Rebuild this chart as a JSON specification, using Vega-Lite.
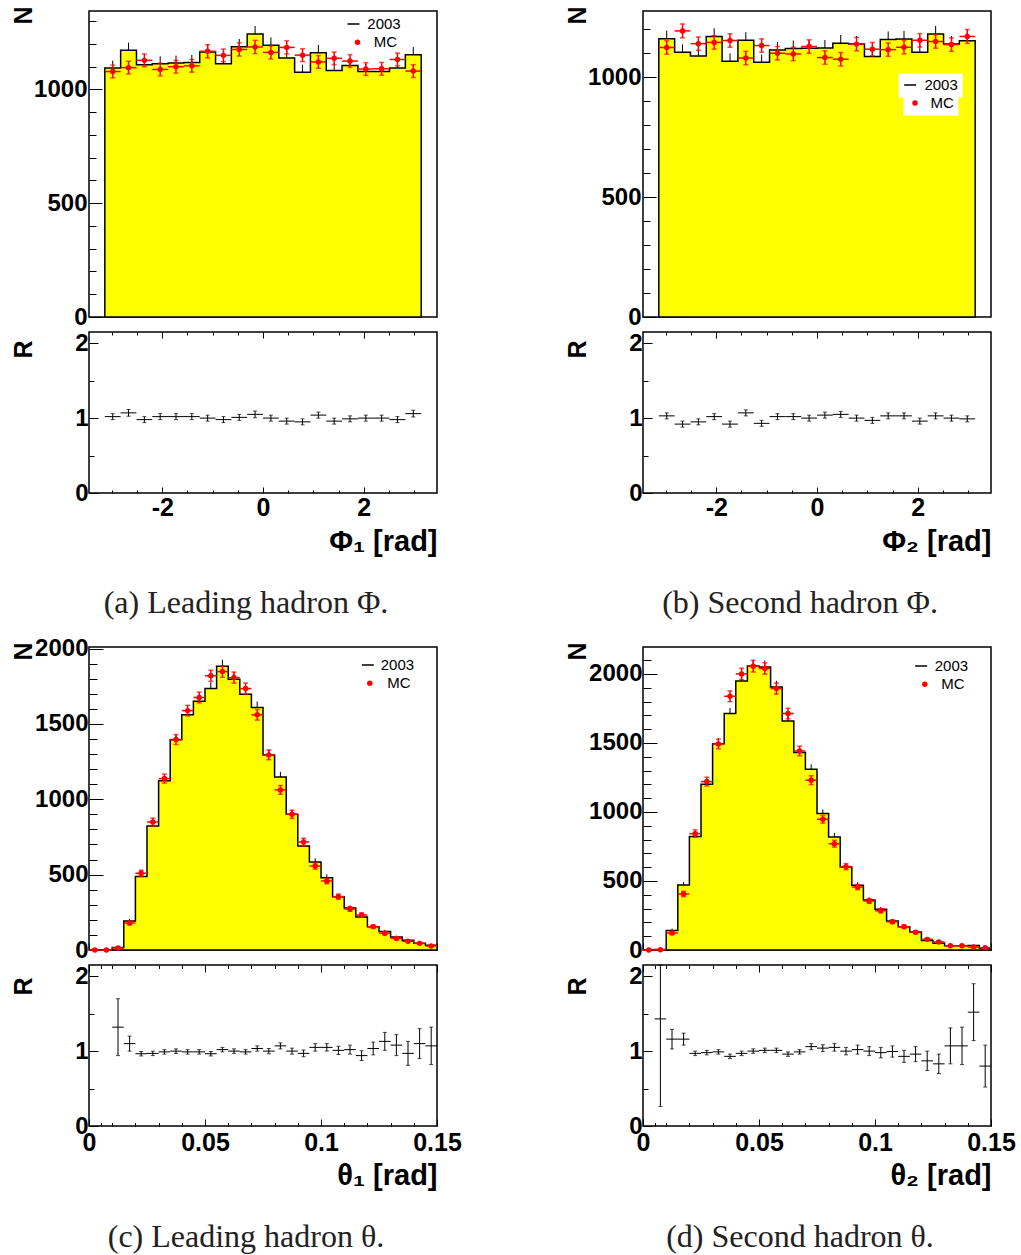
{
  "$schema": "https://vega.github.io/schema/vega-lite/v6.json",
  "padding": {"left": 10, "top": 5, "right": 0, "bottom": 0},
  "background": "white",
  "columns": 2,
  "bounds": "flush",
  "spacing": {"row": 15, "column": 206},
  "resolve": {"scale": {"stroke": "independent", "fill": "independent"}, "legend": {"stroke": "independent", "fill": "independent"}},
  "datasets": {
    "a": [
      {"xc": -2.9845, "x0": -3.1416, "x1": -2.8274, "n": 1094, "ne": 33, "mc": 1079, "me": 28, "r": 1.02, "re": 0.04},
      {"xc": -2.6704, "x0": -2.8274, "x1": -2.5133, "n": 1172, "ne": 34, "mc": 1096, "me": 28, "r": 1.07, "re": 0.045},
      {"xc": -2.3562, "x0": -2.5133, "x1": -2.1991, "n": 1109, "ne": 33, "mc": 1128, "me": 28, "r": 0.98, "re": 0.04},
      {"xc": -2.042, "x0": -2.1991, "x1": -1.885, "n": 1113, "ne": 33, "mc": 1088, "me": 28, "r": 1.02, "re": 0.04},
      {"xc": -1.7279, "x0": -1.885, "x1": -1.5708, "n": 1116, "ne": 33, "mc": 1100, "me": 28, "r": 1.02, "re": 0.04},
      {"xc": -1.4137, "x0": -1.5708, "x1": -1.2566, "n": 1119, "ne": 33, "mc": 1104, "me": 28, "r": 1.02, "re": 0.04},
      {"xc": -1.0996, "x0": -1.2566, "x1": -0.9425, "n": 1165, "ne": 34, "mc": 1168, "me": 29, "r": 1.0, "re": 0.04},
      {"xc": -0.7854, "x0": -0.9425, "x1": -0.6283, "n": 1113, "ne": 33, "mc": 1150, "me": 28, "r": 0.98, "re": 0.04},
      {"xc": -0.4712, "x0": -0.6283, "x1": -0.3142, "n": 1188, "ne": 34, "mc": 1176, "me": 29, "r": 1.01, "re": 0.04},
      {"xc": -0.1571, "x0": -0.3142, "x1": 0, "n": 1244, "ne": 35, "mc": 1187, "me": 29, "r": 1.05, "re": 0.045},
      {"xc": 0.1571, "x0": 0, "x1": 0.3142, "n": 1194, "ne": 35, "mc": 1163, "me": 29, "r": 1.0, "re": 0.04},
      {"xc": 0.4712, "x0": 0.3142, "x1": 0.6283, "n": 1138, "ne": 34, "mc": 1185, "me": 29, "r": 0.96, "re": 0.04},
      {"xc": 0.7854, "x0": 0.6283, "x1": 0.9425, "n": 1076, "ne": 33, "mc": 1151, "me": 28, "r": 0.95, "re": 0.04},
      {"xc": 1.0996, "x0": 0.9425, "x1": 1.2566, "n": 1162, "ne": 34, "mc": 1121, "me": 28, "r": 1.04, "re": 0.04},
      {"xc": 1.4137, "x0": 1.2566, "x1": 1.5708, "n": 1084, "ne": 33, "mc": 1137, "me": 28, "r": 0.96, "re": 0.04},
      {"xc": 1.7279, "x0": 1.5708, "x1": 1.885, "n": 1106, "ne": 33, "mc": 1125, "me": 28, "r": 0.99, "re": 0.04},
      {"xc": 2.042, "x0": 1.885, "x1": 2.1991, "n": 1079, "ne": 33, "mc": 1090, "me": 28, "r": 1.0, "re": 0.04},
      {"xc": 2.3562, "x0": 2.1991, "x1": 2.5133, "n": 1079, "ne": 33, "mc": 1091, "me": 28, "r": 1.0, "re": 0.04},
      {"xc": 2.6704, "x0": 2.5133, "x1": 2.8274, "n": 1094, "ne": 33, "mc": 1132, "me": 28, "r": 0.98, "re": 0.04},
      {"xc": 2.9845, "x0": 2.8274, "x1": 3.1416, "n": 1153, "ne": 34, "mc": 1081, "me": 28, "r": 1.06, "re": 0.045}
    ],
    "b": [
      {"xc": -2.9845, "x0": -3.1416, "x1": -2.8274, "n": 1159, "ne": 34, "mc": 1123, "me": 28, "r": 1.03, "re": 0.04},
      {"xc": -2.6704, "x0": -2.8274, "x1": -2.5133, "n": 1103, "ne": 33, "mc": 1192, "me": 29, "r": 0.92, "re": 0.04},
      {"xc": -2.3562, "x0": -2.5133, "x1": -2.1991, "n": 1088, "ne": 33, "mc": 1139, "me": 28, "r": 0.95, "re": 0.04},
      {"xc": -2.042, "x0": -2.1991, "x1": -1.885, "n": 1169, "ne": 34, "mc": 1144, "me": 28, "r": 1.02, "re": 0.04},
      {"xc": -1.7279, "x0": -1.885, "x1": -1.5708, "n": 1066, "ne": 33, "mc": 1152, "me": 28, "r": 0.92, "re": 0.04},
      {"xc": -1.4137, "x0": -1.5708, "x1": -1.2566, "n": 1153, "ne": 34, "mc": 1079, "me": 28, "r": 1.07, "re": 0.04},
      {"xc": -1.0996, "x0": -1.2566, "x1": -0.9425, "n": 1061, "ne": 33, "mc": 1131, "me": 28, "r": 0.93, "re": 0.04},
      {"xc": -0.7854, "x0": -0.9425, "x1": -0.6283, "n": 1113, "ne": 33, "mc": 1099, "me": 28, "r": 1.02, "re": 0.04},
      {"xc": -0.4712, "x0": -0.6283, "x1": -0.3142, "n": 1119, "ne": 33, "mc": 1096, "me": 28, "r": 1.02, "re": 0.04},
      {"xc": -0.1571, "x0": -0.3142, "x1": 0, "n": 1120, "ne": 33, "mc": 1127, "me": 28, "r": 1.0, "re": 0.04},
      {"xc": 0.1571, "x0": 0, "x1": 0.3142, "n": 1121, "ne": 33, "mc": 1081, "me": 28, "r": 1.04, "re": 0.04},
      {"xc": 0.4712, "x0": 0.3142, "x1": 0.6283, "n": 1141, "ne": 34, "mc": 1074, "me": 28, "r": 1.05, "re": 0.04},
      {"xc": 0.7854, "x0": 0.6283, "x1": 0.9425, "n": 1137, "ne": 34, "mc": 1137, "me": 28, "r": 1.0, "re": 0.04},
      {"xc": 1.0996, "x0": 0.9425, "x1": 1.2566, "n": 1085, "ne": 33, "mc": 1116, "me": 28, "r": 0.97, "re": 0.04},
      {"xc": 1.4137, "x0": 1.2566, "x1": 1.5708, "n": 1156, "ne": 34, "mc": 1114, "me": 28, "r": 1.03, "re": 0.04},
      {"xc": 1.7279, "x0": 1.5708, "x1": 1.885, "n": 1158, "ne": 34, "mc": 1124, "me": 28, "r": 1.03, "re": 0.04},
      {"xc": 2.042, "x0": 1.885, "x1": 2.1991, "n": 1103, "ne": 33, "mc": 1153, "me": 28, "r": 0.96, "re": 0.04},
      {"xc": 2.3562, "x0": 2.1991, "x1": 2.5133, "n": 1179, "ne": 34, "mc": 1148, "me": 28, "r": 1.03, "re": 0.04},
      {"xc": 2.6704, "x0": 2.5133, "x1": 2.8274, "n": 1137, "ne": 34, "mc": 1135, "me": 28, "r": 1.0, "re": 0.04},
      {"xc": 2.9845, "x0": 2.8274, "x1": 3.1416, "n": 1151, "ne": 34, "mc": 1169, "me": 29, "r": 0.99, "re": 0.04}
    ],
    "c": [
      {"xc": 0.0025, "x0": 0, "x1": 0.005, "n": 0, "ne": 0, "mc": 0, "me": 0},
      {"xc": 0.0075, "x0": 0.005, "x1": 0.01, "n": 0, "ne": 0, "mc": 0, "me": 0},
      {"xc": 0.0125, "x0": 0.01, "x1": 0.015, "n": 17, "ne": 4, "mc": 13, "me": 3, "r": 1.32, "re": 0.38},
      {"xc": 0.0175, "x0": 0.015, "x1": 0.02, "n": 192, "ne": 14, "mc": 179, "me": 12, "r": 1.1, "re": 0.1},
      {"xc": 0.0225, "x0": 0.02, "x1": 0.025, "n": 487, "ne": 22, "mc": 509, "me": 20, "r": 0.965, "re": 0.03},
      {"xc": 0.0275, "x0": 0.025, "x1": 0.03, "n": 823, "ne": 29, "mc": 849, "me": 26, "r": 0.97, "re": 0.03},
      {"xc": 0.0325, "x0": 0.03, "x1": 0.035, "n": 1122, "ne": 33, "mc": 1137, "me": 30, "r": 0.99, "re": 0.03},
      {"xc": 0.0375, "x0": 0.035, "x1": 0.04, "n": 1394, "ne": 37, "mc": 1396, "me": 33, "r": 1.0, "re": 0.03},
      {"xc": 0.0425, "x0": 0.04, "x1": 0.045, "n": 1560, "ne": 39, "mc": 1588, "me": 35, "r": 0.99, "re": 0.03},
      {"xc": 0.0475, "x0": 0.045, "x1": 0.05, "n": 1650, "ne": 41, "mc": 1675, "me": 36, "r": 0.99, "re": 0.03},
      {"xc": 0.0525, "x0": 0.05, "x1": 0.055, "n": 1734, "ne": 42, "mc": 1819, "me": 37, "r": 0.965, "re": 0.03},
      {"xc": 0.0575, "x0": 0.055, "x1": 0.06, "n": 1883, "ne": 43, "mc": 1847, "me": 38, "r": 1.02, "re": 0.03},
      {"xc": 0.0625, "x0": 0.06, "x1": 0.065, "n": 1796, "ne": 42, "mc": 1807, "me": 37, "r": 1.0, "re": 0.03},
      {"xc": 0.0675, "x0": 0.065, "x1": 0.07, "n": 1697, "ne": 41, "mc": 1734, "me": 37, "r": 0.99, "re": 0.03},
      {"xc": 0.0725, "x0": 0.07, "x1": 0.075, "n": 1608, "ne": 40, "mc": 1560, "me": 35, "r": 1.035, "re": 0.035},
      {"xc": 0.0775, "x0": 0.075, "x1": 0.08, "n": 1294, "ne": 36, "mc": 1294, "me": 32, "r": 1.0, "re": 0.035},
      {"xc": 0.0825, "x0": 0.08, "x1": 0.085, "n": 1148, "ne": 34, "mc": 1062, "me": 29, "r": 1.07, "re": 0.04},
      {"xc": 0.0875, "x0": 0.085, "x1": 0.09, "n": 900, "ne": 30, "mc": 900, "me": 27, "r": 1.0, "re": 0.04},
      {"xc": 0.0925, "x0": 0.09, "x1": 0.095, "n": 690, "ne": 26, "mc": 717, "me": 24, "r": 0.97, "re": 0.045},
      {"xc": 0.0975, "x0": 0.095, "x1": 0.1, "n": 584, "ne": 24, "mc": 557, "me": 21, "r": 1.05, "re": 0.05},
      {"xc": 0.1025, "x0": 0.1, "x1": 0.105, "n": 480, "ne": 22, "mc": 458, "me": 19, "r": 1.05, "re": 0.05},
      {"xc": 0.1075, "x0": 0.105, "x1": 0.11, "n": 354, "ne": 19, "mc": 354, "me": 17, "r": 1.01, "re": 0.055},
      {"xc": 0.1125, "x0": 0.11, "x1": 0.115, "n": 279, "ne": 17, "mc": 272, "me": 15, "r": 1.02, "re": 0.06},
      {"xc": 0.1175, "x0": 0.115, "x1": 0.12, "n": 219, "ne": 15, "mc": 232, "me": 14, "r": 0.94, "re": 0.065},
      {"xc": 0.1225, "x0": 0.12, "x1": 0.125, "n": 155, "ne": 12, "mc": 155, "me": 11, "r": 1.035, "re": 0.085},
      {"xc": 0.1275, "x0": 0.125, "x1": 0.13, "n": 122, "ne": 11, "mc": 111, "me": 9, "r": 1.13, "re": 0.12},
      {"xc": 0.1325, "x0": 0.13, "x1": 0.135, "n": 86, "ne": 9, "mc": 77, "me": 8, "r": 1.08, "re": 0.14},
      {"xc": 0.1375, "x0": 0.135, "x1": 0.14, "n": 64, "ne": 8, "mc": 58, "me": 7, "r": 0.97, "re": 0.16},
      {"xc": 0.1425, "x0": 0.14, "x1": 0.145, "n": 44, "ne": 7, "mc": 44, "me": 6, "r": 1.1, "re": 0.2},
      {"xc": 0.1475, "x0": 0.145, "x1": 0.15, "n": 31, "ne": 6, "mc": 27, "me": 5, "r": 1.07, "re": 0.25}
    ],
    "d": [
      {"xc": 0.0025, "x0": 0, "x1": 0.005, "n": 0, "ne": 0, "mc": 0, "me": 0},
      {"xc": 0.0075, "x0": 0.005, "x1": 0.01, "n": 3, "ne": 2, "mc": 2, "me": 1, "r": 1.43, "re": 1.17},
      {"xc": 0.0125, "x0": 0.01, "x1": 0.015, "n": 142, "ne": 12, "mc": 123, "me": 11, "r": 1.16, "re": 0.13},
      {"xc": 0.0175, "x0": 0.015, "x1": 0.02, "n": 471, "ne": 22, "mc": 406, "me": 19, "r": 1.16, "re": 0.08},
      {"xc": 0.0225, "x0": 0.02, "x1": 0.025, "n": 823, "ne": 29, "mc": 843, "me": 27, "r": 0.97, "re": 0.03},
      {"xc": 0.0275, "x0": 0.025, "x1": 0.03, "n": 1201, "ne": 35, "mc": 1220, "me": 32, "r": 0.98, "re": 0.03},
      {"xc": 0.0325, "x0": 0.03, "x1": 0.035, "n": 1495, "ne": 39, "mc": 1493, "me": 35, "r": 0.99, "re": 0.03},
      {"xc": 0.0375, "x0": 0.035, "x1": 0.04, "n": 1713, "ne": 41, "mc": 1838, "me": 39, "r": 0.93, "re": 0.03},
      {"xc": 0.0425, "x0": 0.04, "x1": 0.045, "n": 1949, "ne": 44, "mc": 2000, "me": 41, "r": 0.97, "re": 0.03},
      {"xc": 0.0475, "x0": 0.045, "x1": 0.05, "n": 2058, "ne": 45, "mc": 2056, "me": 42, "r": 1.0, "re": 0.03},
      {"xc": 0.0525, "x0": 0.05, "x1": 0.055, "n": 2051, "ne": 45, "mc": 2039, "me": 41, "r": 1.01, "re": 0.03},
      {"xc": 0.0575, "x0": 0.055, "x1": 0.06, "n": 1906, "ne": 44, "mc": 1894, "me": 40, "r": 1.01, "re": 0.03},
      {"xc": 0.0625, "x0": 0.06, "x1": 0.065, "n": 1659, "ne": 41, "mc": 1713, "me": 38, "r": 0.96, "re": 0.03},
      {"xc": 0.0675, "x0": 0.065, "x1": 0.07, "n": 1430, "ne": 38, "mc": 1442, "me": 35, "r": 0.99, "re": 0.03},
      {"xc": 0.0725, "x0": 0.07, "x1": 0.075, "n": 1309, "ne": 36, "mc": 1230, "me": 32, "r": 1.06, "re": 0.04},
      {"xc": 0.0775, "x0": 0.075, "x1": 0.08, "n": 988, "ne": 31, "mc": 947, "me": 28, "r": 1.04, "re": 0.045},
      {"xc": 0.0825, "x0": 0.08, "x1": 0.085, "n": 819, "ne": 29, "mc": 770, "me": 25, "r": 1.05, "re": 0.05},
      {"xc": 0.0875, "x0": 0.085, "x1": 0.09, "n": 601, "ne": 25, "mc": 604, "me": 22, "r": 1.0, "re": 0.05},
      {"xc": 0.0925, "x0": 0.09, "x1": 0.095, "n": 469, "ne": 22, "mc": 456, "me": 19, "r": 1.02, "re": 0.06},
      {"xc": 0.0975, "x0": 0.095, "x1": 0.1, "n": 362, "ne": 19, "mc": 355, "me": 17, "r": 1.0, "re": 0.06},
      {"xc": 0.1025, "x0": 0.1, "x1": 0.105, "n": 295, "ne": 17, "mc": 285, "me": 15, "r": 0.98, "re": 0.07},
      {"xc": 0.1075, "x0": 0.105, "x1": 0.11, "n": 210, "ne": 14, "mc": 205, "me": 13, "r": 0.995, "re": 0.075},
      {"xc": 0.1125, "x0": 0.11, "x1": 0.115, "n": 169, "ne": 13, "mc": 169, "me": 12, "r": 0.93, "re": 0.08},
      {"xc": 0.1175, "x0": 0.115, "x1": 0.12, "n": 130, "ne": 11, "mc": 128, "me": 10, "r": 0.96, "re": 0.1},
      {"xc": 0.1225, "x0": 0.12, "x1": 0.125, "n": 68, "ne": 8, "mc": 77, "me": 8, "r": 0.87, "re": 0.13},
      {"xc": 0.1275, "x0": 0.125, "x1": 0.13, "n": 48, "ne": 7, "mc": 58, "me": 7, "r": 0.83, "re": 0.13},
      {"xc": 0.1325, "x0": 0.13, "x1": 0.135, "n": 31, "ne": 6, "mc": 31, "me": 5, "r": 1.07, "re": 0.24},
      {"xc": 0.1375, "x0": 0.135, "x1": 0.14, "n": 31, "ne": 6, "mc": 31, "me": 5, "r": 1.07, "re": 0.25},
      {"xc": 0.1425, "x0": 0.14, "x1": 0.145, "n": 32, "ne": 6, "mc": 21, "me": 4, "r": 1.52, "re": 0.38},
      {"xc": 0.1475, "x0": 0.145, "x1": 0.15, "n": 13, "ne": 4, "mc": 16, "me": 4, "r": 0.8, "re": 0.28}
    ]
  },
  "concat": [
    {
      "width": 348, "height": 306, "data": {"name": "a"},
      "resolve": {"axis": {"y": "independent"}},
      "layer": [
        {"mark": {"type": "errorbar", "color": "black", "thickness": 1},
         "encoding": {"x": {"field": "xc", "type": "quantitative", "title": null, "scale": {"domain": [-3.4558, 3.4558], "nice": false, "zero": false}},
                      "y": {"field": "n", "type": "quantitative", "axis": null, "scale": {"domain": [0, 1345], "nice": false, "zero": false}},
                      "yError": {"field": "ne"}}},
        {"transform": [{"fold": ["x0", "x1"], "as": ["k", "edge"]}],
         "mark": {"type": "area", "fill": "#ffff00", "fillOpacity": 1, "stroke": "black", "strokeWidth": 1.5},
         "encoding": {"x": {"field": "edge", "type": "quantitative", "title": null, "scale": {"domain": [-3.4558, 3.4558], "nice": false, "zero": false},
                            "axis": {"values": [-3, -2.5, -2, -1.5, -1, -0.5, 0, 0.5, 1, 1.5, 2, 2.5, 3], "labels": false, "title": null, "tickSize": {"condition": {"test": "datum.value % 2 === 0", "value": -9}, "value": -4}}},
                      "y": {"field": "n", "type": "quantitative", "stack": null, "scale": {"domain": [0, 1345], "nice": false, "zero": false},
                            "axis": {"orient": "left", "values": [0, 500, 1000], "format": "d", "tickSize": -13, "labelPadding": 15, "title": "N", "titleAngle": 270, "titleAlign": "right", "titleBaseline": "alphabetic", "titleX": -58, "titleY": -5, "titleFontSize": 25}},
                      "stroke": {"datum": "2003", "type": "nominal", "scale": {"domain": ["2003"], "range": ["black"]},
                                 "legend": {"orient": "none", "legendX": 257, "legendY": 5.5, "title": null, "symbolType": "stroke", "symbolSize": 144, "symbolStrokeWidth": 1.5, "symbolStrokeColor": "black", "labelOffset": 6.3, "padding": 0}}}},
        {"mark": {"type": "rule", "color": "red", "strokeWidth": 1.5},
         "encoding": {"x": {"field": "x0", "type": "quantitative", "title": null, "scale": {"domain": [-3.4558, 3.4558], "nice": false, "zero": false}}, "x2": {"field": "x1"},
                      "y": {"field": "mc", "type": "quantitative", "scale": {"domain": [0, 1345], "nice": false, "zero": false},
                            "axis": {"orient": "left", "values": [100, 200, 300, 400, 600, 700, 800, 900, 1100, 1200, 1300], "labels": false, "title": null, "tickSize": -7}}}},
        {"mark": {"type": "errorbar", "color": "red", "thickness": 1.5, "ticks": {"size": 5, "thickness": 1.5}},
         "encoding": {"x": {"field": "xc", "type": "quantitative", "title": null, "scale": {"domain": [-3.4558, 3.4558], "nice": false, "zero": false}},
                      "y": {"field": "mc", "type": "quantitative", "axis": null, "scale": {"domain": [0, 1345], "nice": false, "zero": false}},
                      "yError": {"field": "me"}}},
        {"mark": {"type": "point", "filled": true, "size": 30, "opacity": 1},
         "encoding": {"x": {"field": "xc", "type": "quantitative", "title": null, "scale": {"domain": [-3.4558, 3.4558], "nice": false, "zero": false}},
                      "y": {"field": "mc", "type": "quantitative", "axis": null, "scale": {"domain": [0, 1345], "nice": false, "zero": false}},
                      "fill": {"datum": "MC", "type": "nominal", "scale": {"domain": ["MC"], "range": ["red"]},
                               "legend": {"orient": "none", "legendX": 261, "legendY": 23.8, "title": null, "symbolType": "circle", "symbolSize": 30, "symbolStrokeWidth": 0, "labelOffset": 8.8, "padding": 0}}}}
      ]
    },
    {
      "width": 348, "height": 306, "data": {"name": "b"},
      "resolve": {"axis": {"y": "independent"}},
      "layer": [
        {"mark": {"type": "errorbar", "color": "black", "thickness": 1},
         "encoding": {"x": {"field": "xc", "type": "quantitative", "title": null, "scale": {"domain": [-3.4558, 3.4558], "nice": false, "zero": false}},
                      "y": {"field": "n", "type": "quantitative", "axis": null, "scale": {"domain": [0, 1275], "nice": false, "zero": false}},
                      "yError": {"field": "ne"}}},
        {"transform": [{"fold": ["x0", "x1"], "as": ["k", "edge"]}],
         "mark": {"type": "area", "fill": "#ffff00", "fillOpacity": 1, "stroke": "black", "strokeWidth": 1.5},
         "encoding": {"x": {"field": "edge", "type": "quantitative", "title": null, "scale": {"domain": [-3.4558, 3.4558], "nice": false, "zero": false},
                            "axis": {"values": [-3, -2.5, -2, -1.5, -1, -0.5, 0, 0.5, 1, 1.5, 2, 2.5, 3], "labels": false, "title": null, "tickSize": {"condition": {"test": "datum.value % 2 === 0", "value": -9}, "value": -4}}},
                      "y": {"field": "n", "type": "quantitative", "stack": null, "scale": {"domain": [0, 1275], "nice": false, "zero": false},
                            "axis": {"orient": "left", "values": [0, 500, 1000], "format": "d", "tickSize": -13, "labelPadding": 15, "title": "N", "titleAngle": 270, "titleAlign": "right", "titleBaseline": "alphabetic", "titleX": -58, "titleY": -5, "titleFontSize": 25}},
                      "stroke": {"datum": "2003", "type": "nominal", "scale": {"domain": ["2003"], "range": ["black"]},
                                 "legend": {"orient": "none", "legendX": 255.7, "legendY": 62.5, "title": null, "symbolType": "stroke", "symbolSize": 144, "symbolStrokeWidth": 1.5, "symbolStrokeColor": "black", "labelOffset": 6.7, "padding": 4, "fillColor": "white"}}}},
        {"mark": {"type": "rule", "color": "red", "strokeWidth": 1.5},
         "encoding": {"x": {"field": "x0", "type": "quantitative", "title": null, "scale": {"domain": [-3.4558, 3.4558], "nice": false, "zero": false}}, "x2": {"field": "x1"},
                      "y": {"field": "mc", "type": "quantitative", "scale": {"domain": [0, 1275], "nice": false, "zero": false},
                            "axis": {"orient": "left", "values": [100, 200, 300, 400, 600, 700, 800, 900, 1100, 1200], "labels": false, "title": null, "tickSize": -7}}}},
        {"mark": {"type": "errorbar", "color": "red", "thickness": 1.5, "ticks": {"size": 5, "thickness": 1.5}},
         "encoding": {"x": {"field": "xc", "type": "quantitative", "title": null, "scale": {"domain": [-3.4558, 3.4558], "nice": false, "zero": false}},
                      "y": {"field": "mc", "type": "quantitative", "axis": null, "scale": {"domain": [0, 1275], "nice": false, "zero": false}},
                      "yError": {"field": "me"}}},
        {"mark": {"type": "point", "filled": true, "size": 30, "opacity": 1},
         "encoding": {"x": {"field": "xc", "type": "quantitative", "title": null, "scale": {"domain": [-3.4558, 3.4558], "nice": false, "zero": false}},
                      "y": {"field": "mc", "type": "quantitative", "axis": null, "scale": {"domain": [0, 1275], "nice": false, "zero": false}},
                      "fill": {"datum": "MC", "type": "nominal", "scale": {"domain": ["MC"], "range": ["red"]},
                               "legend": {"orient": "none", "legendX": 260.5, "legendY": 80.5, "title": null, "symbolType": "circle", "symbolSize": 30, "symbolStrokeWidth": 0, "labelOffset": 8, "padding": 4, "fillColor": "white"}}}}
      ]
    },
    {
      "width": 348, "height": 161, "data": {"name": "a"},
      "transform": [{"filter": "isValid(datum.r)"}],
      "title": {"text": "(a) Leading hadron Φ.", "orient": "bottom", "anchor": "middle", "dx": -17, "offset": 32, "font": "Liberation Serif", "fontSize": 32, "fontWeight": "normal", "color": "#222222"},
      "layer": [
        {"mark": {"type": "rule", "color": "black", "strokeWidth": 1},
         "encoding": {"x": {"field": "x0", "type": "quantitative", "scale": {"domain": [-3.4558, 3.4558], "nice": false, "zero": false},
                            "axis": {"values": [-3, -2.5, -2, -1.5, -1, -0.5, 0, 0.5, 1, 1.5, 2, 2.5, 3], "labelExpr": "datum.value === -2 ? '-2' : datum.value === 0 ? '0' : datum.value === 2 ? '2' : ''", "tickSize": {"condition": {"test": "datum.value % 2 === 0", "value": -6}, "value": -3}, "labelPadding": 8, "labelFontSize": 25, "title": "Φ₁ [rad]", "titleX": 348, "titleY": 57, "titleAlign": "right", "titleBaseline": "alphabetic", "titleAngle": 0, "titleFontSize": 29}},
                      "x2": {"field": "x1"},
                      "y": {"field": "r", "type": "quantitative", "title": "R", "scale": {"domain": [0, 2.15], "nice": false, "zero": false, "clamp": true},
                            "axis": {"values": [0, 0.5, 1, 1.5, 2], "labelExpr": "datum.value === 0 ? '0' : datum.value === 1 ? '1' : datum.value === 2 ? '2' : ''", "tickSize": {"condition": {"test": "datum.value % 1 === 0", "value": -9}, "value": -5}, "labelPadding": 10, "title": "R", "titleAngle": 270, "titleAlign": "right", "titleBaseline": "alphabetic", "titleX": -58, "titleY": 8, "titleFontSize": 25}}}},
        {"mark": {"type": "errorbar", "color": "black", "thickness": 1, "ticks": {"size": 4, "thickness": 1}},
         "encoding": {"x": {"field": "xc", "type": "quantitative", "scale": {"domain": [-3.4558, 3.4558], "nice": false, "zero": false},
                            "axis": {"orient": "top", "values": [-3, -2.5, -2, -1.5, -1, -0.5, 0, 0.5, 1, 1.5, 2, 2.5, 3], "labels": false, "title": null, "tickSize": {"condition": {"test": "datum.value % 2 === 0", "value": -6}, "value": -3}}},
                      "y": {"field": "r", "type": "quantitative", "title": "R", "scale": {"domain": [0, 2.15], "nice": false, "zero": false, "clamp": true}},
                      "yError": {"field": "re"}}}
      ],
      "resolve": {"axis": {"x": "independent"}}
    },
    {
      "width": 348, "height": 161, "data": {"name": "b"},
      "transform": [{"filter": "isValid(datum.r)"}],
      "title": {"text": "(b) Second hadron Φ.", "orient": "bottom", "anchor": "middle", "dx": -17, "offset": 32, "font": "Liberation Serif", "fontSize": 32, "fontWeight": "normal", "color": "#222222"},
      "layer": [
        {"mark": {"type": "rule", "color": "black", "strokeWidth": 1},
         "encoding": {"x": {"field": "x0", "type": "quantitative", "scale": {"domain": [-3.4558, 3.4558], "nice": false, "zero": false},
                            "axis": {"values": [-3, -2.5, -2, -1.5, -1, -0.5, 0, 0.5, 1, 1.5, 2, 2.5, 3], "labelExpr": "datum.value === -2 ? '-2' : datum.value === 0 ? '0' : datum.value === 2 ? '2' : ''", "tickSize": {"condition": {"test": "datum.value % 2 === 0", "value": -6}, "value": -3}, "labelPadding": 8, "labelFontSize": 25, "title": "Φ₂ [rad]", "titleX": 348, "titleY": 57, "titleAlign": "right", "titleBaseline": "alphabetic", "titleAngle": 0, "titleFontSize": 29}},
                      "x2": {"field": "x1"},
                      "y": {"field": "r", "type": "quantitative", "title": "R", "scale": {"domain": [0, 2.15], "nice": false, "zero": false, "clamp": true},
                            "axis": {"values": [0, 0.5, 1, 1.5, 2], "labelExpr": "datum.value === 0 ? '0' : datum.value === 1 ? '1' : datum.value === 2 ? '2' : ''", "tickSize": {"condition": {"test": "datum.value % 1 === 0", "value": -9}, "value": -5}, "labelPadding": 10, "title": "R", "titleAngle": 270, "titleAlign": "right", "titleBaseline": "alphabetic", "titleX": -58, "titleY": 8, "titleFontSize": 25}}}},
        {"mark": {"type": "errorbar", "color": "black", "thickness": 1, "ticks": {"size": 4, "thickness": 1}},
         "encoding": {"x": {"field": "xc", "type": "quantitative", "scale": {"domain": [-3.4558, 3.4558], "nice": false, "zero": false},
                            "axis": {"orient": "top", "values": [-3, -2.5, -2, -1.5, -1, -0.5, 0, 0.5, 1, 1.5, 2, 2.5, 3], "labels": false, "title": null, "tickSize": {"condition": {"test": "datum.value % 2 === 0", "value": -6}, "value": -3}}},
                      "y": {"field": "r", "type": "quantitative", "title": "R", "scale": {"domain": [0, 2.15], "nice": false, "zero": false, "clamp": true}},
                      "yError": {"field": "re"}}}
      ],
      "resolve": {"axis": {"x": "independent"}}
    },
    {"width": 348, "height": 124, "data": {"values": []}, "mark": "point", "encoding": {}, "view": {"stroke": null}},
    {"width": 348, "height": 124, "data": {"values": []}, "mark": "point", "encoding": {}, "view": {"stroke": null}},
    {
      "width": 348, "height": 303, "data": {"name": "c"},
      "resolve": {"axis": {"y": "independent"}},
      "layer": [
        {"mark": {"type": "errorbar", "color": "black", "thickness": 1},
         "encoding": {"x": {"field": "xc", "type": "quantitative", "title": null, "scale": {"domain": [0, 0.15], "nice": false, "zero": false}},
                      "y": {"field": "n", "type": "quantitative", "axis": null, "scale": {"domain": [0, 2010], "nice": false, "zero": false}},
                      "yError": {"field": "ne"}}},
        {"transform": [{"fold": ["x0", "x1"], "as": ["k", "edge"]}],
         "mark": {"type": "area", "fill": "#ffff00", "fillOpacity": 1, "stroke": "black", "strokeWidth": 1.5},
         "encoding": {"x": {"field": "edge", "type": "quantitative", "title": null, "scale": {"domain": [0, 0.15], "nice": false, "zero": false},
                            "axis": {"values": [0, 0.005, 0.01, 0.02, 0.03, 0.04, 0.05, 0.06, 0.07, 0.08, 0.09, 0.1, 0.11, 0.12, 0.13, 0.14, 0.15], "labels": false, "title": null, "tickSize": {"condition": {"test": "indexof([0, 0.05, 0.1, 0.15], datum.value) >= 0", "value": -7}, "value": -3.5}}},
                      "y": {"field": "n", "type": "quantitative", "stack": null, "scale": {"domain": [0, 2010], "nice": false, "zero": false},
                            "axis": {"orient": "left", "values": [0, 500, 1000, 1500, 2000], "format": "d", "tickSize": -14, "labelPadding": 15, "title": "N", "titleAngle": 270, "titleAlign": "right", "titleBaseline": "alphabetic", "titleX": -58, "titleY": -5, "titleFontSize": 25}},
                      "stroke": {"datum": "2003", "type": "nominal", "scale": {"domain": ["2003"], "range": ["black"]},
                                 "legend": {"orient": "none", "legendX": 271.3, "legendY": 10.5, "title": null, "symbolType": "stroke", "symbolSize": 144, "symbolStrokeWidth": 1.5, "symbolStrokeColor": "black", "labelOffset": 5.4, "padding": 0}}}},
        {"mark": {"type": "rule", "color": "red", "strokeWidth": 1.5},
         "encoding": {"x": {"field": "x0", "type": "quantitative", "title": null, "scale": {"domain": [0, 0.15], "nice": false, "zero": false}}, "x2": {"field": "x1"},
                      "y": {"field": "mc", "type": "quantitative", "scale": {"domain": [0, 2010], "nice": false, "zero": false},
                            "axis": {"orient": "left", "values": [100, 200, 300, 400, 600, 700, 800, 900, 1100, 1200, 1300, 1400, 1600, 1700, 1800, 1900], "labels": false, "title": null, "tickSize": -8}}}},
        {"mark": {"type": "errorbar", "color": "red", "thickness": 1.5, "ticks": {"size": 5, "thickness": 1.5}},
         "encoding": {"x": {"field": "xc", "type": "quantitative", "title": null, "scale": {"domain": [0, 0.15], "nice": false, "zero": false}},
                      "y": {"field": "mc", "type": "quantitative", "axis": null, "scale": {"domain": [0, 2010], "nice": false, "zero": false}},
                      "yError": {"field": "me"}}},
        {"mark": {"type": "point", "filled": true, "size": 30, "opacity": 1},
         "encoding": {"x": {"field": "xc", "type": "quantitative", "title": null, "scale": {"domain": [0, 0.15], "nice": false, "zero": false}},
                      "y": {"field": "mc", "type": "quantitative", "axis": null, "scale": {"domain": [0, 2010], "nice": false, "zero": false}},
                      "fill": {"datum": "MC", "type": "nominal", "scale": {"domain": ["MC"], "range": ["red"]},
                               "legend": {"orient": "none", "legendX": 273.3, "legendY": 28.8, "title": null, "symbolType": "circle", "symbolSize": 30, "symbolStrokeWidth": 0, "labelOffset": 10, "padding": 0}}}}
      ]
    },
    {
      "width": 348, "height": 303, "data": {"name": "d"},
      "resolve": {"axis": {"y": "independent"}},
      "layer": [
        {"mark": {"type": "errorbar", "color": "black", "thickness": 1},
         "encoding": {"x": {"field": "xc", "type": "quantitative", "title": null, "scale": {"domain": [0, 0.15], "nice": false, "zero": false}},
                      "y": {"field": "n", "type": "quantitative", "axis": null, "scale": {"domain": [0, 2195], "nice": false, "zero": false}},
                      "yError": {"field": "ne"}}},
        {"transform": [{"fold": ["x0", "x1"], "as": ["k", "edge"]}],
         "mark": {"type": "area", "fill": "#ffff00", "fillOpacity": 1, "stroke": "black", "strokeWidth": 1.5},
         "encoding": {"x": {"field": "edge", "type": "quantitative", "title": null, "scale": {"domain": [0, 0.15], "nice": false, "zero": false},
                            "axis": {"values": [0, 0.005, 0.01, 0.02, 0.03, 0.04, 0.05, 0.06, 0.07, 0.08, 0.09, 0.1, 0.11, 0.12, 0.13, 0.14, 0.15], "labels": false, "title": null, "tickSize": {"condition": {"test": "indexof([0, 0.05, 0.1, 0.15], datum.value) >= 0", "value": -7}, "value": -3.5}}},
                      "y": {"field": "n", "type": "quantitative", "stack": null, "scale": {"domain": [0, 2195], "nice": false, "zero": false},
                            "axis": {"orient": "left", "values": [0, 500, 1000, 1500, 2000], "format": "d", "tickSize": -14, "labelPadding": 15, "title": "N", "titleAngle": 270, "titleAlign": "right", "titleBaseline": "alphabetic", "titleX": -58, "titleY": -5, "titleFontSize": 25}},
                      "stroke": {"datum": "2003", "type": "nominal", "scale": {"domain": ["2003"], "range": ["black"]},
                                 "legend": {"orient": "none", "legendX": 270.7, "legendY": 11.5, "title": null, "symbolType": "stroke", "symbolSize": 144, "symbolStrokeWidth": 1.5, "symbolStrokeColor": "black", "labelOffset": 6, "padding": 0}}}},
        {"mark": {"type": "rule", "color": "red", "strokeWidth": 1.5},
         "encoding": {"x": {"field": "x0", "type": "quantitative", "title": null, "scale": {"domain": [0, 0.15], "nice": false, "zero": false}}, "x2": {"field": "x1"},
                      "y": {"field": "mc", "type": "quantitative", "scale": {"domain": [0, 2195], "nice": false, "zero": false},
                            "axis": {"orient": "left", "values": [100, 200, 300, 400, 600, 700, 800, 900, 1100, 1200, 1300, 1400, 1600, 1700, 1800, 1900, 2100], "labels": false, "title": null, "tickSize": -8}}}},
        {"mark": {"type": "errorbar", "color": "red", "thickness": 1.5, "ticks": {"size": 5, "thickness": 1.5}},
         "encoding": {"x": {"field": "xc", "type": "quantitative", "title": null, "scale": {"domain": [0, 0.15], "nice": false, "zero": false}},
                      "y": {"field": "mc", "type": "quantitative", "axis": null, "scale": {"domain": [0, 2195], "nice": false, "zero": false}},
                      "yError": {"field": "me"}}},
        {"mark": {"type": "point", "filled": true, "size": 30, "opacity": 1},
         "encoding": {"x": {"field": "xc", "type": "quantitative", "title": null, "scale": {"domain": [0, 0.15], "nice": false, "zero": false}},
                      "y": {"field": "mc", "type": "quantitative", "axis": null, "scale": {"domain": [0, 2195], "nice": false, "zero": false}},
                      "fill": {"datum": "MC", "type": "nominal", "scale": {"domain": ["MC"], "range": ["red"]},
                               "legend": {"orient": "none", "legendX": 274.3, "legendY": 29.8, "title": null, "symbolType": "circle", "symbolSize": 30, "symbolStrokeWidth": 0, "labelOffset": 9, "padding": 0}}}}
      ]
    },
    {
      "width": 348, "height": 161, "data": {"name": "c"},
      "transform": [{"filter": "isValid(datum.r)"}],
      "title": {"text": "(c) Leading hadron θ.", "orient": "bottom", "anchor": "middle", "dx": -17, "offset": 32, "font": "Liberation Serif", "fontSize": 32, "fontWeight": "normal", "color": "#222222"},
      "layer": [
        {"mark": {"type": "rule", "color": "black", "strokeWidth": 1},
         "encoding": {"x": {"field": "x0", "type": "quantitative", "scale": {"domain": [0, 0.15], "nice": false, "zero": false},
                            "axis": {"values": [0, 0.005, 0.01, 0.02, 0.03, 0.04, 0.05, 0.06, 0.07, 0.08, 0.09, 0.1, 0.11, 0.12, 0.13, 0.14, 0.15], "labelExpr": "datum.value === 0 ? '0' : datum.value === 0.05 ? '0.05' : datum.value === 0.1 ? '0.1' : datum.value === 0.15 ? '0.15' : ''", "tickSize": {"condition": {"test": "indexof([0, 0.05, 0.1, 0.15], datum.value) >= 0", "value": -7}, "value": -3.5}, "labelPadding": 11, "labelFontSize": 25, "title": "θ₁ [rad]", "titleX": 348, "titleY": 58, "titleAlign": "right", "titleBaseline": "alphabetic", "titleAngle": 0, "titleFontSize": 29}},
                      "x2": {"field": "x1"},
                      "y": {"field": "r", "type": "quantitative", "title": "R", "scale": {"domain": [0, 2.15], "nice": false, "zero": false, "clamp": true},
                            "axis": {"values": [0, 0.5, 1, 1.5, 2], "labelExpr": "datum.value === 0 ? '0' : datum.value === 1 ? '1' : datum.value === 2 ? '2' : ''", "tickSize": {"condition": {"test": "datum.value % 1 === 0", "value": -9}, "value": -5}, "labelPadding": 10, "title": "R", "titleAngle": 270, "titleAlign": "right", "titleBaseline": "alphabetic", "titleX": -58, "titleY": 12, "titleFontSize": 25}}}},
        {"mark": {"type": "errorbar", "color": "black", "thickness": 1, "ticks": {"size": 4, "thickness": 1}},
         "encoding": {"x": {"field": "xc", "type": "quantitative", "scale": {"domain": [0, 0.15], "nice": false, "zero": false},
                            "axis": {"orient": "top", "values": [0, 0.005, 0.01, 0.02, 0.03, 0.04, 0.05, 0.06, 0.07, 0.08, 0.09, 0.1, 0.11, 0.12, 0.13, 0.14, 0.15], "labels": false, "title": null, "tickSize": {"condition": {"test": "indexof([0, 0.05, 0.1, 0.15], datum.value) >= 0", "value": -7}, "value": -3.5}}},
                      "y": {"field": "r", "type": "quantitative", "title": "R", "scale": {"domain": [0, 2.15], "nice": false, "zero": false, "clamp": true}},
                      "yError": {"field": "re"}}}
      ],
      "resolve": {"axis": {"x": "independent"}}
    },
    {
      "width": 348, "height": 161, "data": {"name": "d"},
      "transform": [{"filter": "isValid(datum.r)"}],
      "title": {"text": "(d) Second hadron θ.", "orient": "bottom", "anchor": "middle", "dx": -17, "offset": 32, "font": "Liberation Serif", "fontSize": 32, "fontWeight": "normal", "color": "#222222"},
      "layer": [
        {"mark": {"type": "rule", "color": "black", "strokeWidth": 1},
         "encoding": {"x": {"field": "x0", "type": "quantitative", "scale": {"domain": [0, 0.15], "nice": false, "zero": false},
                            "axis": {"values": [0, 0.005, 0.01, 0.02, 0.03, 0.04, 0.05, 0.06, 0.07, 0.08, 0.09, 0.1, 0.11, 0.12, 0.13, 0.14, 0.15], "labelExpr": "datum.value === 0 ? '0' : datum.value === 0.05 ? '0.05' : datum.value === 0.1 ? '0.1' : datum.value === 0.15 ? '0.15' : ''", "tickSize": {"condition": {"test": "indexof([0, 0.05, 0.1, 0.15], datum.value) >= 0", "value": -7}, "value": -3.5}, "labelPadding": 11, "labelFontSize": 25, "title": "θ₂ [rad]", "titleX": 348, "titleY": 58, "titleAlign": "right", "titleBaseline": "alphabetic", "titleAngle": 0, "titleFontSize": 29}},
                      "x2": {"field": "x1"},
                      "y": {"field": "r", "type": "quantitative", "title": "R", "scale": {"domain": [0, 2.15], "nice": false, "zero": false, "clamp": true},
                            "axis": {"values": [0, 0.5, 1, 1.5, 2], "labelExpr": "datum.value === 0 ? '0' : datum.value === 1 ? '1' : datum.value === 2 ? '2' : ''", "tickSize": {"condition": {"test": "datum.value % 1 === 0", "value": -9}, "value": -5}, "labelPadding": 10, "title": "R", "titleAngle": 270, "titleAlign": "right", "titleBaseline": "alphabetic", "titleX": -58, "titleY": 12, "titleFontSize": 25}}}},
        {"mark": {"type": "errorbar", "color": "black", "thickness": 1, "ticks": {"size": 4, "thickness": 1}},
         "encoding": {"x": {"field": "xc", "type": "quantitative", "scale": {"domain": [0, 0.15], "nice": false, "zero": false},
                            "axis": {"orient": "top", "values": [0, 0.005, 0.01, 0.02, 0.03, 0.04, 0.05, 0.06, 0.07, 0.08, 0.09, 0.1, 0.11, 0.12, 0.13, 0.14, 0.15], "labels": false, "title": null, "tickSize": {"condition": {"test": "indexof([0, 0.05, 0.1, 0.15], datum.value) >= 0", "value": -7}, "value": -3.5}}},
                      "y": {"field": "r", "type": "quantitative", "title": "R", "scale": {"domain": [0, 2.15], "nice": false, "zero": false, "clamp": true}},
                      "yError": {"field": "re"}}}
      ],
      "resolve": {"axis": {"x": "independent"}}
    }
  ],
  "config": {
    "font": "Liberation Sans",
    "view": {"stroke": "black", "strokeWidth": 1.5},
    "axis": {"domain": false, "grid": false, "ticks": true, "tickColor": "black", "tickWidth": 1, "labelFont": "Liberation Sans", "labelFontWeight": "bold", "labelFontSize": 24, "labelColor": "black", "labelOverlap": false, "labelFlush": false, "labelBound": false, "titleFont": "Liberation Sans, DejaVu Sans", "titleFontWeight": "bold", "titleColor": "black"},
    "legend": {"labelFont": "Liberation Sans", "labelFontSize": 15, "labelColor": "black", "rowPadding": 0}
  }
}
